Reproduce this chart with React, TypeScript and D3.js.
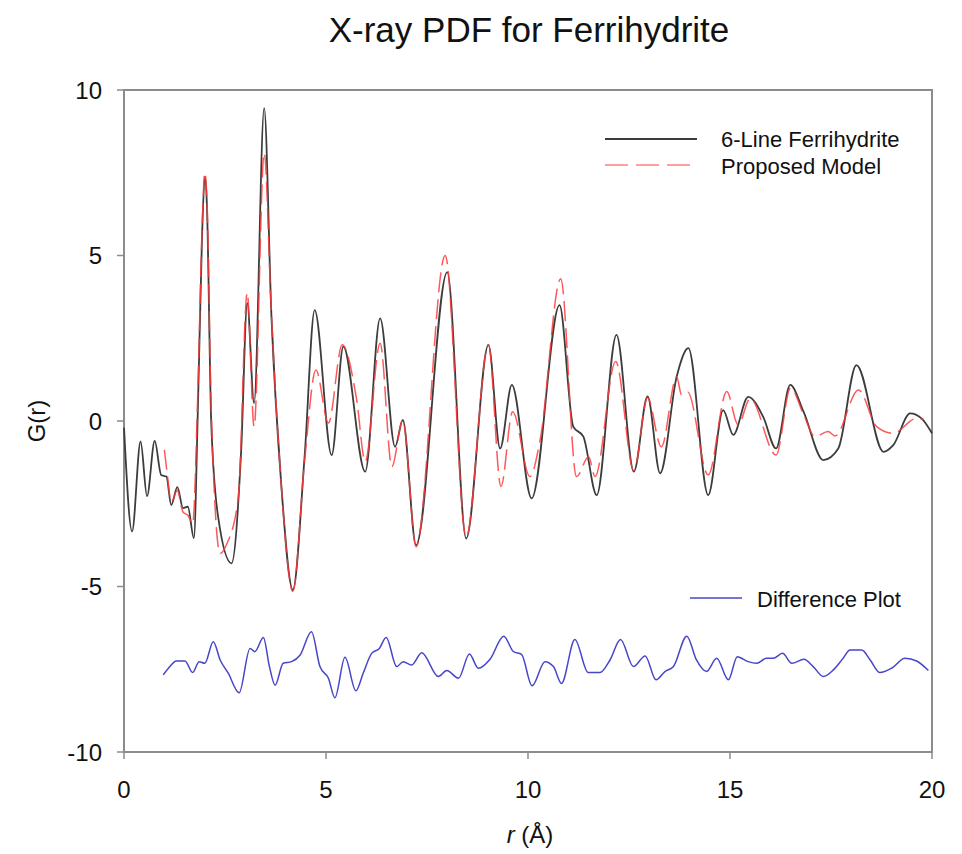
import React from "react";
import * as d3 from "d3";

// 6-Line Ferrihydrite (black) — [r, G(r)]
const ferrihydrite: [number, number][] = [
  [0.0, -0.2], [0.2, -3.34], [0.41, -0.62], [0.57, -2.27], [0.76, -0.6], [0.92, -1.63],
  [1.05, -1.68], [1.17, -2.54], [1.32, -2.0], [1.46, -2.63], [1.58, -2.59], [1.73, -3.54],
  [1.83, 0.43], [1.93, 5.5], [2.0, 7.38], [2.05, 6.6], [2.16, -0.07], [2.33, -2.9],
  [2.66, -4.3], [2.9, -0.9], [3.05, 3.56], [3.22, 0.54], [3.47, 9.45], [3.65, 3.15],
  [3.89, -1.88], [4.18, -5.1], [4.47, -1.08], [4.72, 3.35], [5.14, -1.03], [5.43, 2.25],
  [5.97, -1.53], [6.34, 3.1], [6.71, -0.78], [6.9, 0.03], [7.23, -3.75], [8.0, 4.5],
  [8.47, -3.55], [9.02, 2.3], [9.31, -0.83], [9.6, 1.09], [10.09, -2.34], [10.78, 3.5],
  [11.12, -0.17], [11.37, -0.47], [11.7, -2.24], [12.19, 2.6], [12.62, -1.53], [12.96, 0.74],
  [13.27, -1.58], [13.68, 1.34], [13.97, 2.2], [14.46, -2.24], [14.83, 0.33], [15.08, -0.42],
  [15.45, 0.73], [15.82, 0.13], [16.14, -0.83], [16.49, 1.09], [16.82, 0.28], [17.31, -1.18],
  [17.68, -0.83], [18.13, 1.69], [18.8, -0.93], [19.04, -0.73], [19.46, 0.23], [19.74, 0.08],
  [20.0, -0.37],
];

// Proposed Model (red dashed)
const model: [number, number][] = [
  [1.0, -0.87], [1.07, -1.6], [1.17, -2.45], [1.32, -2.1], [1.46, -2.75], [1.58, -2.85],
  [1.7, -3.1], [1.83, 1.0], [1.93, 5.7], [2.0, 7.5], [2.05, 6.8], [2.16, 0.3], [2.38, -4.0],
  [2.55, -3.7], [2.83, -2.3], [3.05, 3.87], [3.22, -0.17], [3.47, 8.1], [3.65, 3.2],
  [3.89, -1.9], [4.18, -5.15], [4.47, -1.2], [4.75, 1.54], [5.06, -0.06], [5.4, 2.3],
  [5.76, 0.63], [5.97, -1.23], [6.34, 2.35], [6.63, -1.38], [6.9, 0.03], [7.23, -3.8],
  [7.95, 5.0], [8.47, -3.5], [9.02, 2.3], [9.33, -1.98], [9.62, 0.28], [10.05, -1.68],
  [10.3, -0.57], [10.81, 4.3], [11.2, -1.68], [11.5, -1.08], [11.66, -1.68], [12.17, 1.8],
  [12.62, -1.5], [12.96, 0.7], [13.3, -0.78], [13.68, 1.34], [13.8, 0.79], [13.95, 0.88],
  [14.46, -1.63], [14.92, 0.89], [15.2, -0.12], [15.5, 0.68], [16.14, -1.03], [16.5, 1.0],
  [16.82, 0.2], [17.1, -0.47], [17.43, -0.32], [17.6, -0.45], [18.18, 0.94], [18.63, -0.17],
  [19.04, -0.37], [19.62, 0.08], [19.8, 0.05],
];

// Difference Plot (blue)
const difference: [number, number][] = [
  [0.97, -7.67], [1.1, -7.47], [1.3, -7.25], [1.51, -7.25], [1.7, -7.6], [1.86, -7.27],
  [2.0, -7.32], [2.21, -6.67], [2.38, -7.22], [2.58, -7.62], [2.85, -8.21], [3.12, -6.87],
  [3.24, -6.97], [3.45, -6.54], [3.6, -7.42], [3.74, -7.98], [3.94, -7.32], [4.15, -7.27],
  [4.36, -7.07], [4.64, -6.37], [4.85, -7.42], [5.06, -7.77], [5.22, -8.36], [5.47, -7.14],
  [5.74, -8.15], [5.92, -7.62], [6.13, -7.02], [6.32, -6.87], [6.49, -6.54], [6.75, -7.42],
  [6.91, -7.27], [7.12, -7.37], [7.37, -7.0], [7.78, -7.72], [7.99, -7.54], [8.28, -7.77],
  [8.55, -7.04], [8.77, -7.47], [9.06, -7.2], [9.4, -6.5], [9.64, -6.97], [9.84, -7.05],
  [10.1, -8.0], [10.42, -7.27], [10.63, -7.42], [10.83, -7.93], [11.16, -6.6], [11.49, -7.6],
  [11.78, -7.6], [12.03, -7.22], [12.29, -6.6], [12.61, -7.42], [12.9, -7.1], [13.17, -7.82],
  [13.39, -7.57], [13.6, -7.42], [13.93, -6.5], [14.17, -7.22], [14.42, -7.57], [14.67, -7.17],
  [14.96, -7.82], [15.18, -7.12], [15.45, -7.27], [15.66, -7.32], [15.9, -7.17], [16.07, -7.17],
  [16.3, -7.02], [16.53, -7.32], [16.83, -7.2], [17.06, -7.42], [17.31, -7.72], [17.56, -7.52],
  [17.8, -7.17], [17.97, -6.92], [18.26, -6.92], [18.47, -7.22], [18.71, -7.6], [19.0, -7.47],
  [19.33, -7.17], [19.62, -7.25], [19.91, -7.54],
];

const xTicks = [0, 5, 10, 15, 20];
const yTicks = [-10, -5, 0, 5, 10];

const W = 962, H = 854;
const FONT = "Liberation Sans, Arial, sans-serif";

export default function App() {
  const x = d3.scaleLinear().domain([0, 20]).range([124, 932]);
  const y = d3.scaleLinear().domain([-10, 10]).range([752, 90]);
  const line = d3.line<[number, number]>().x(d => x(d[0])).y(d => y(d[1])).curve(d3.curveMonotoneX);
  const axisColor = "#8c8c8c";

  return (
    <svg width={W} height={H} style={{ position: "absolute", left: 0, top: 0, background: "#fff" }}
      fontFamily={FONT}>
      <text x={529} y={42} textAnchor="middle" fontSize={35} fill="#111">X-ray PDF for Ferrihydrite</text>

      {/* frame */}
      <rect x={x(0)} y={y(10)} width={x(20) - x(0)} height={y(-10) - y(10)} fill="none" stroke={axisColor} strokeWidth={2} />

      {yTicks.map(t => (
        <g key={"y" + t}>
          <line x1={x(0) - 7} x2={x(0)} y1={y(t)} y2={y(t)} stroke={axisColor} strokeWidth={1.5} />
          <text x={102} y={y(t)} dy="0.36em" textAnchor="end" fontSize={24} fill="#111">{t}</text>
        </g>
      ))}
      {xTicks.map(t => (
        <g key={"x" + t}>
          <line x1={x(t)} x2={x(t)} y1={y(-10)} y2={y(-10) + 7} stroke={axisColor} strokeWidth={1.5} />
          <text x={x(t)} y={798} textAnchor="middle" fontSize={24} fill="#111">{t}</text>
        </g>
      ))}

      <text transform={`translate(45,421) rotate(-90)`} textAnchor="middle" fontSize={24} fill="#111">G(r)</text>
      <text x={530} y={843} textAnchor="middle" fontSize={24} fill="#111">
        <tspan fontStyle="italic">r</tspan> (Å)
      </text>

      <path d={line(difference) || ""} fill="none" stroke="#4646c8" strokeWidth={1.5} />
      <path d={line(ferrihydrite) || ""} fill="none" stroke="#3c3c3c" strokeWidth={1.8} />
      <path d={line(model) || ""} fill="none" stroke="#ff3b3b" strokeWidth={1.5} strokeDasharray="20 7" strokeOpacity={0.85} />

      {/* legend */}
      <line x1={605} x2={697} y1={139} y2={139} stroke="#3c3c3c" strokeWidth={1.8} />
      <text x={721} y={139} dy="0.36em" fontSize={22} fill="#111">6-Line Ferrihydrite</text>
      <line x1={605} x2={697} y1={165} y2={165} stroke="#ff7f7f" strokeWidth={1.6} strokeDasharray="23 8" />
      <text x={721} y={166} dy="0.36em" fontSize={22} fill="#111">Proposed Model</text>
      <line x1={690} x2={742} y1={598} y2={598} stroke="#4646c8" strokeWidth={1.4} />
      <text x={757} y={599} dy="0.36em" fontSize={22} fill="#111">Difference Plot</text>
    </svg>
  );
}
